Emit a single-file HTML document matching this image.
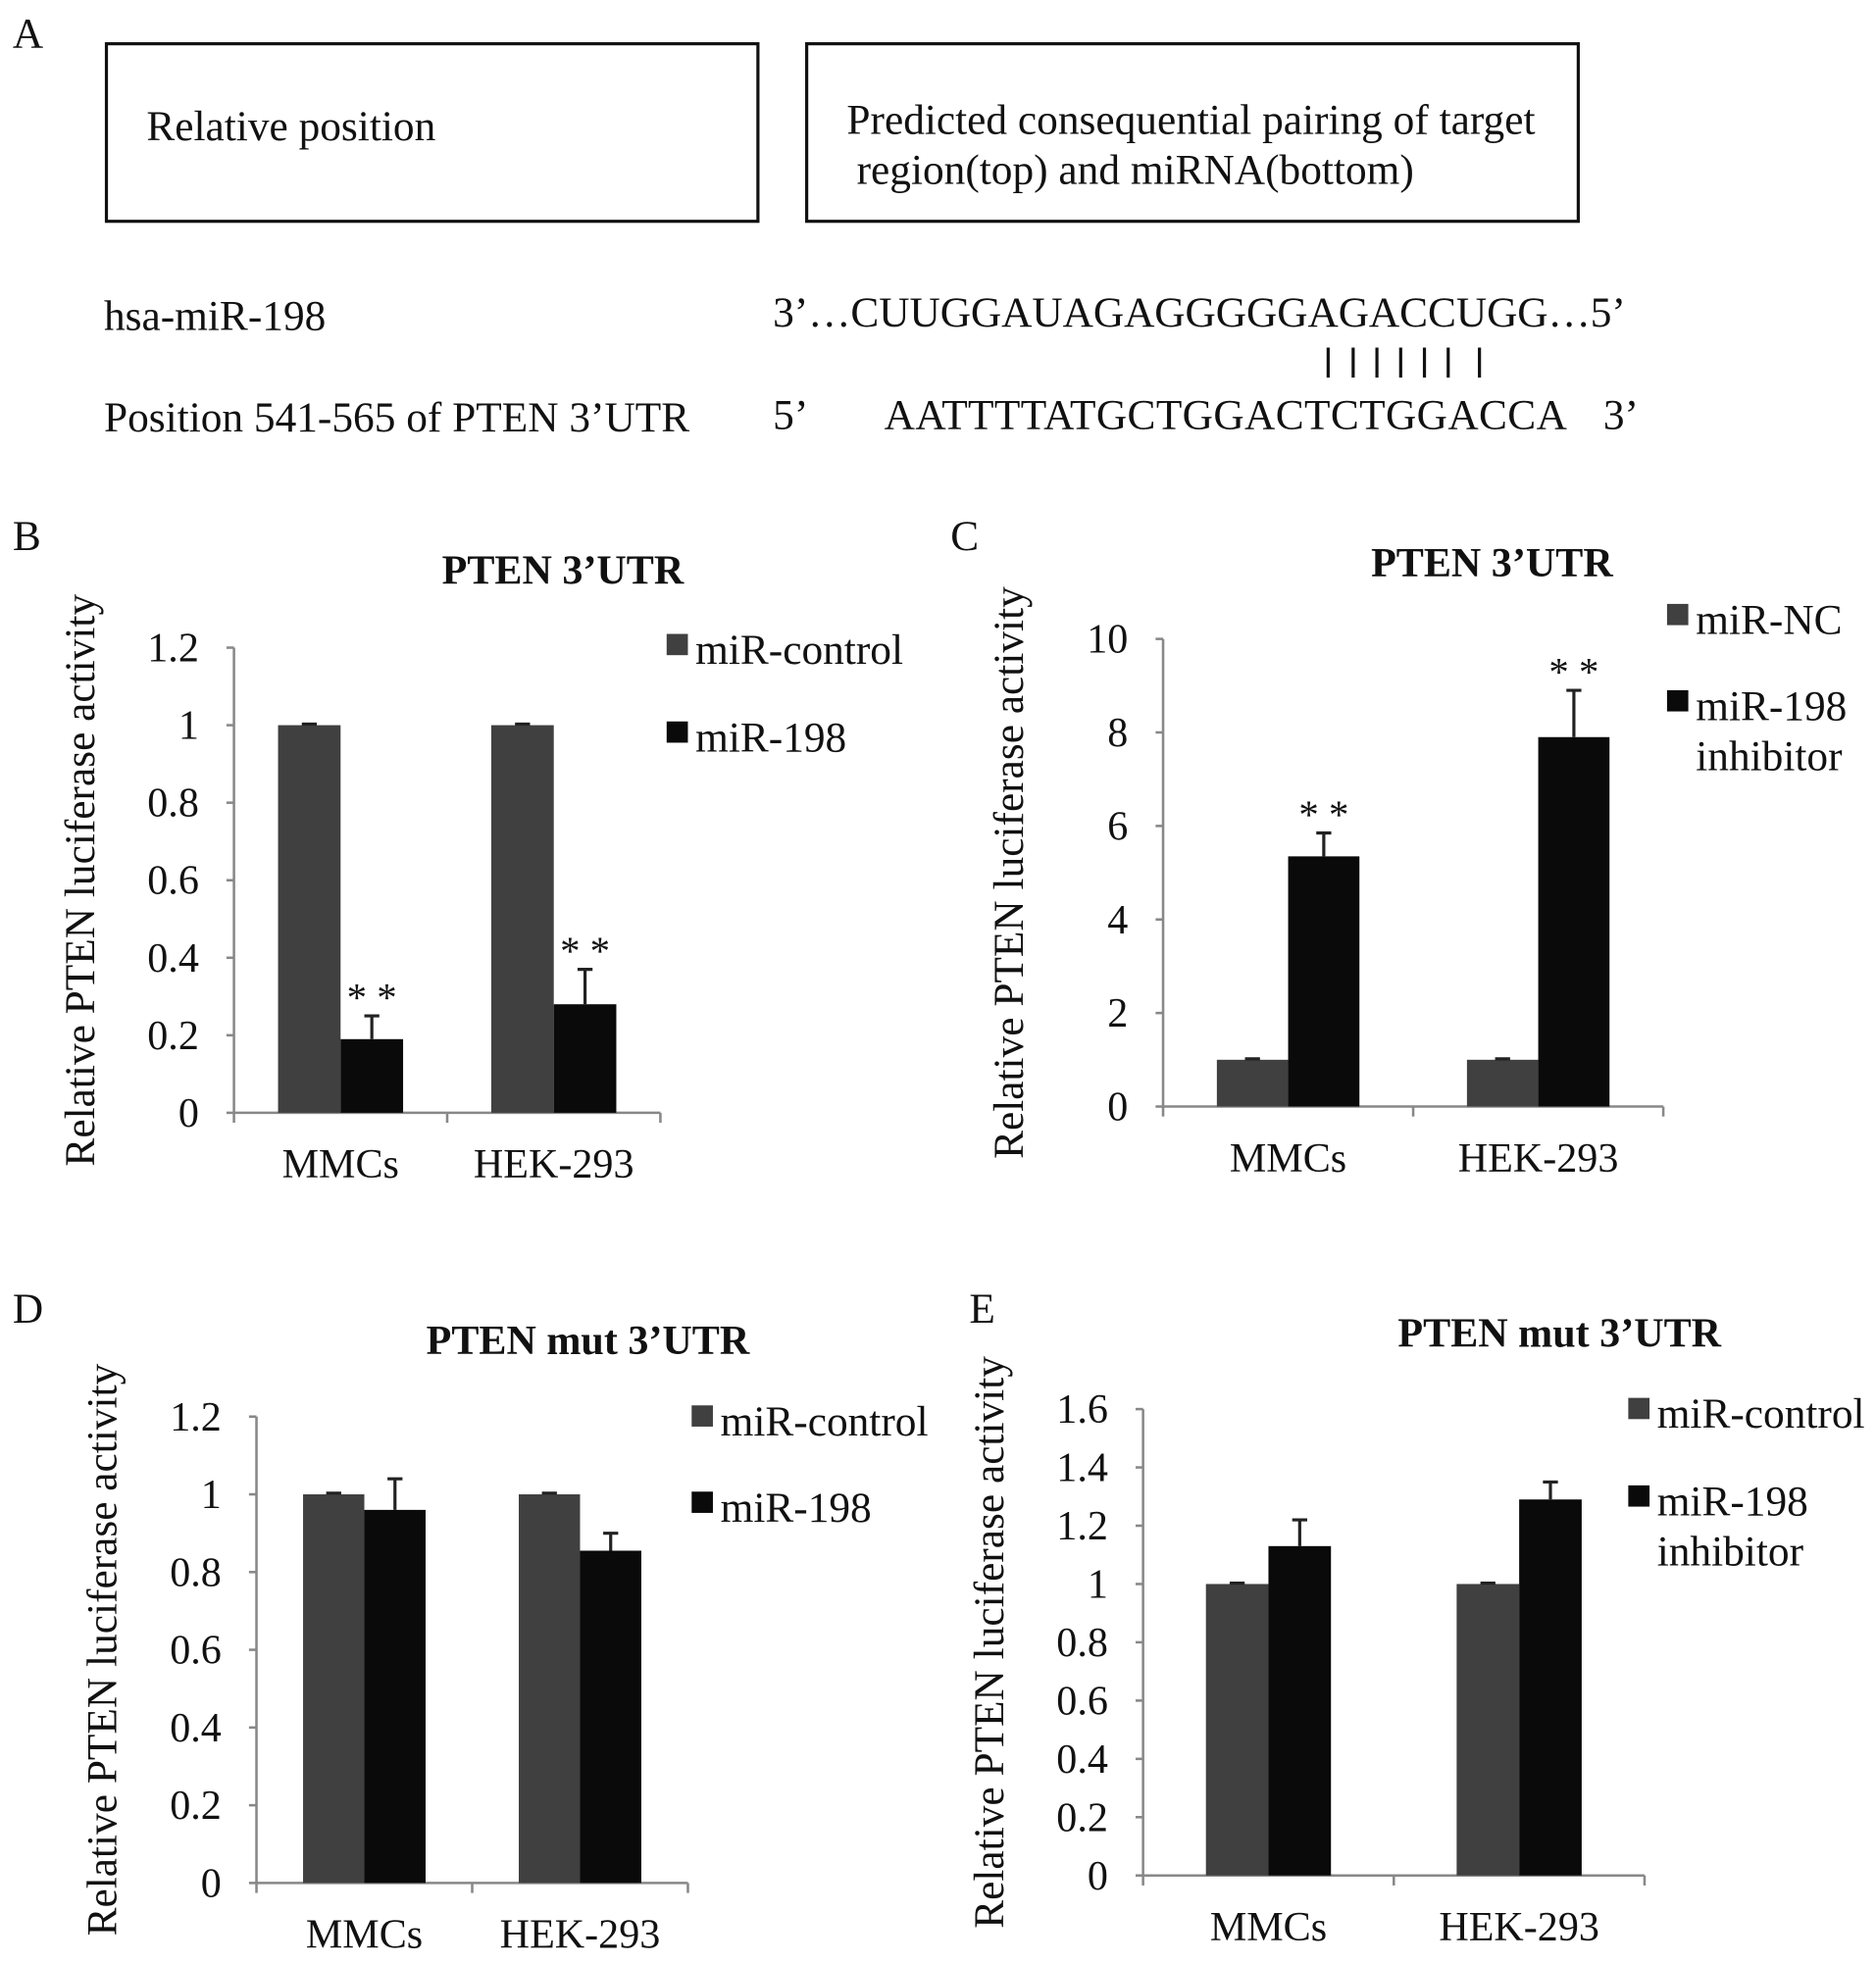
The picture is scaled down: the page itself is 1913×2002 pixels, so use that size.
<!DOCTYPE html>
<html><head><meta charset="utf-8"><style>
html,body{margin:0;padding:0;background:#fff}
svg{display:block}
text{font-family:"Liberation Serif",serif;fill:#111}
</style></head><body>
<svg id="fig" width="1913" height="2002" viewBox="0 0 1500 1570" xmlns="http://www.w3.org/2000/svg">
<g>
<text x="10" y="38" font-size="34">A</text>
<rect x="85" y="35" width="521" height="142" fill="none" stroke="#111" stroke-width="2.5"/>
<text x="117" y="112" font-size="34">Relative position</text>
<rect x="645" y="35" width="617" height="142" fill="none" stroke="#111" stroke-width="2.5"/>
<text x="677" y="107" font-size="34">Predicted consequential pairing of target</text>
<text x="685" y="147" font-size="34">region(top) and miRNA(bottom)</text>
<text x="83" y="264" font-size="34">hsa-miR-198</text>
<text x="618" y="261" font-size="34" textLength="682">3’…CUUGGAUAGAGGGGGAGACCUGG…5’</text>
<g stroke="#111" stroke-width="2.5">
<line x1="1062" y1="278" x2="1062" y2="302"/><line x1="1082" y1="278" x2="1082" y2="302"/><line x1="1101" y1="278" x2="1101" y2="302"/><line x1="1120" y1="278" x2="1120" y2="302"/><line x1="1139" y1="278" x2="1139" y2="302"/><line x1="1158" y1="278" x2="1158" y2="302"/><line x1="1183" y1="278" x2="1183" y2="302"/>
</g>
<text x="83" y="345" font-size="34">Position 541-565 of PTEN 3’UTR</text>
<text x="618" y="343" font-size="34">5’</text>
<text x="707" y="343" font-size="34" textLength="546">AATTTTATGCTGGACTCTGGACCA</text>
<text x="1282" y="343" font-size="34">3’</text>
</g>
</svg>
<script>
const categories = ["MMCs","HEK-293"];
const bCtrl = [1,1], bMir = [0.19,0.28], bCtrlErr=[0.003,0.003], bMirErr=[0.06,0.09];
const cCtrl = [1,1], cMir = [5.35,7.9], cCtrlErr=[0.02,0.02], cMirErr=[0.5,1.0];
const dCtrl = [1,1], dMir = [0.96,0.855], dCtrlErr=[0.003,0.003], dMirErr=[0.08,0.045];
const eCtrl = [1,1], eMir = [1.13,1.29], eCtrlErr=[0.003,0.003], eMirErr=[0.09,0.06];
const bTicks=["0","0.2","0.4","0.6","0.8","1","1.2"];
const cTicks=["0","2","4","6","8","10"];
const dTicks=["0","0.2","0.4","0.6","0.8","1","1.2"];
const eTicks=["0","0.2","0.4","0.6","0.8","1","1.2","1.4","1.6"];
const bStars=[true,true], cStars=[true,true], dStars=[false,false], eStars=[false,false];

const svg=document.getElementById('fig');
const NS='http://www.w3.org/2000/svg';
function mk(tag,attrs,parent,txt){const e=document.createElementNS(NS,tag);for(const k in attrs)e.setAttribute(k,attrs[k]);if(txt!==undefined)e.textContent=txt;parent.appendChild(e);return e;}

function panel(o){
  const g=mk('g',{},svg);
  
  
  const ymax=parseFloat(o.ticks[o.ticks.length-1]);
  const y=v=>o.y0-(v/ymax)*(o.y0-o.ytop);
  const plotW=o.xend-o.x0, groupW=plotW/categories.length, bw=o.bw;
  const xc=i=>o.x0+groupW*(i+0.5)+o.shift;
  const lbl=mk('text',{x:o.lx,y:o.ly,'font-size':34},g,o.id.toUpperCase());
  
  
  const t=mk('text',{x:o.tx,y:o.ty,'font-size':33,'font-weight':'bold','text-anchor':'middle'},g,o.title);
  
  
  const yl=mk('text',{x:0,y:0,'font-size':34,'text-anchor':'middle',transform:`translate(${o.x0-112},${(o.y0+o.ytop)/2}) rotate(-90)`},g,'Relative PTEN luciferase activity');
  
  
  const ax=mk('path',{d:`M${o.x0},${o.ytop} V${o.y0} H${o.xend}`,stroke:'#888',fill:'none','stroke-width':2},g);
  
  
  o.ticks.forEach(tk=>{
    const v=parseFloat(tk),yy=y(v);
    mk('line',{x1:o.x0-6,x2:o.x0,y1:yy,y2:yy,stroke:'#888','stroke-width':2},g);
    const tl=mk('text',{x:o.x0-28,y:yy+11,'font-size':33,'text-anchor':'end'},g,tk);
    
    
  });
  for(let i=0;i<=categories.length;i++){const xx=o.x0+groupW*i;mk('line',{x1:xx,x2:xx,y1:o.y0,y2:o.y0+8,stroke:'#888','stroke-width':2},g);}
  categories.forEach((c,i)=>{
    const cx=xc(i);
    const xl=mk('text',{x:cx,y:o.y0+52,'font-size':33,'text-anchor':'middle'},g,c);
    
    
    [[o.ctrl,o.ctrlErr,'#404040',cx-bw],[o.mir,o.mirErr,'#0a0a0a',cx]].forEach(([vals,errs,col,bx],s)=>{
      const v=vals[i],top=y(v);
      const r=mk('rect',{x:bx,y:top,width:bw,height:o.y0-top,fill:col},g);
      
      
      const et=y(v+errs[i]),mx=bx+bw/2;
      const eb=mk('path',{d:`M${mx},${top} V${et} M${mx-6},${et} H${mx+6}`,stroke:'#222','stroke-width':2.5,fill:'none'},g);
      
      
      if(s&&o.stars[i]){
        const st=mk('text',{x:mx,y:et-4,'font-size':32,'text-anchor':'middle'},g,'* *');
        
        
      }
    });
  });
  o.legend.forEach((L,k)=>{
    const sq=mk('rect',{x:o.legx,y:L.y-16,width:17,height:17,fill:k?'#0a0a0a':'#404040'},g);
    
    
    L.lines.forEach((ln,j)=>{
      const lt=mk('text',{x:o.legx+23,y:L.y+8+j*40,'font-size':34},g,ln);
      
      
    });
  });
}
panel({id:'b',x0:187,xend:528,y0:890,ytop:518,bw:50,shift:0,ticks:bTicks,ctrl:bCtrl,mir:bMir,ctrlErr:bCtrlErr,mirErr:bMirErr,stars:bStars,title:'PTEN 3’UTR',tx:450,ty:467,lx:10,ly:440,legx:533,legend:[{y:523,lines:['miR-control']},{y:593,lines:['miR-198']}]});
panel({id:'c',x0:930,xend:1330,y0:885,ytop:511,bw:57,shift:0,ticks:cTicks,ctrl:cCtrl,mir:cMir,ctrlErr:cCtrlErr,mirErr:cMirErr,stars:cStars,title:'PTEN 3’UTR',tx:1193,ty:461,lx:760,ly:440,legx:1333,legend:[{y:499,lines:['miR-NC']},{y:568,lines:['miR-198','inhibitor']}]});
panel({id:'d',x0:205,xend:550,y0:1506,ytop:1133,bw:49,shift:0,ticks:dTicks,ctrl:dCtrl,mir:dMir,ctrlErr:dCtrlErr,mirErr:dMirErr,stars:dStars,title:'PTEN mut 3’UTR',tx:470,ty:1083,lx:10,ly:1058,legx:553,legend:[{y:1140,lines:['miR-control']},{y:1209,lines:['miR-198']}]});
panel({id:'e',x0:914,xend:1315,y0:1500,ytop:1127,bw:50,shift:0,ticks:eTicks,ctrl:eCtrl,mir:eMir,ctrlErr:eCtrlErr,mirErr:eMirErr,stars:eStars,title:'PTEN mut 3’UTR',tx:1247,ty:1077,lx:775,ly:1058,legx:1302,legend:[{y:1134,lines:['miR-control']},{y:1204,lines:['miR-198','inhibitor']}]});
</script>
</body></html>
